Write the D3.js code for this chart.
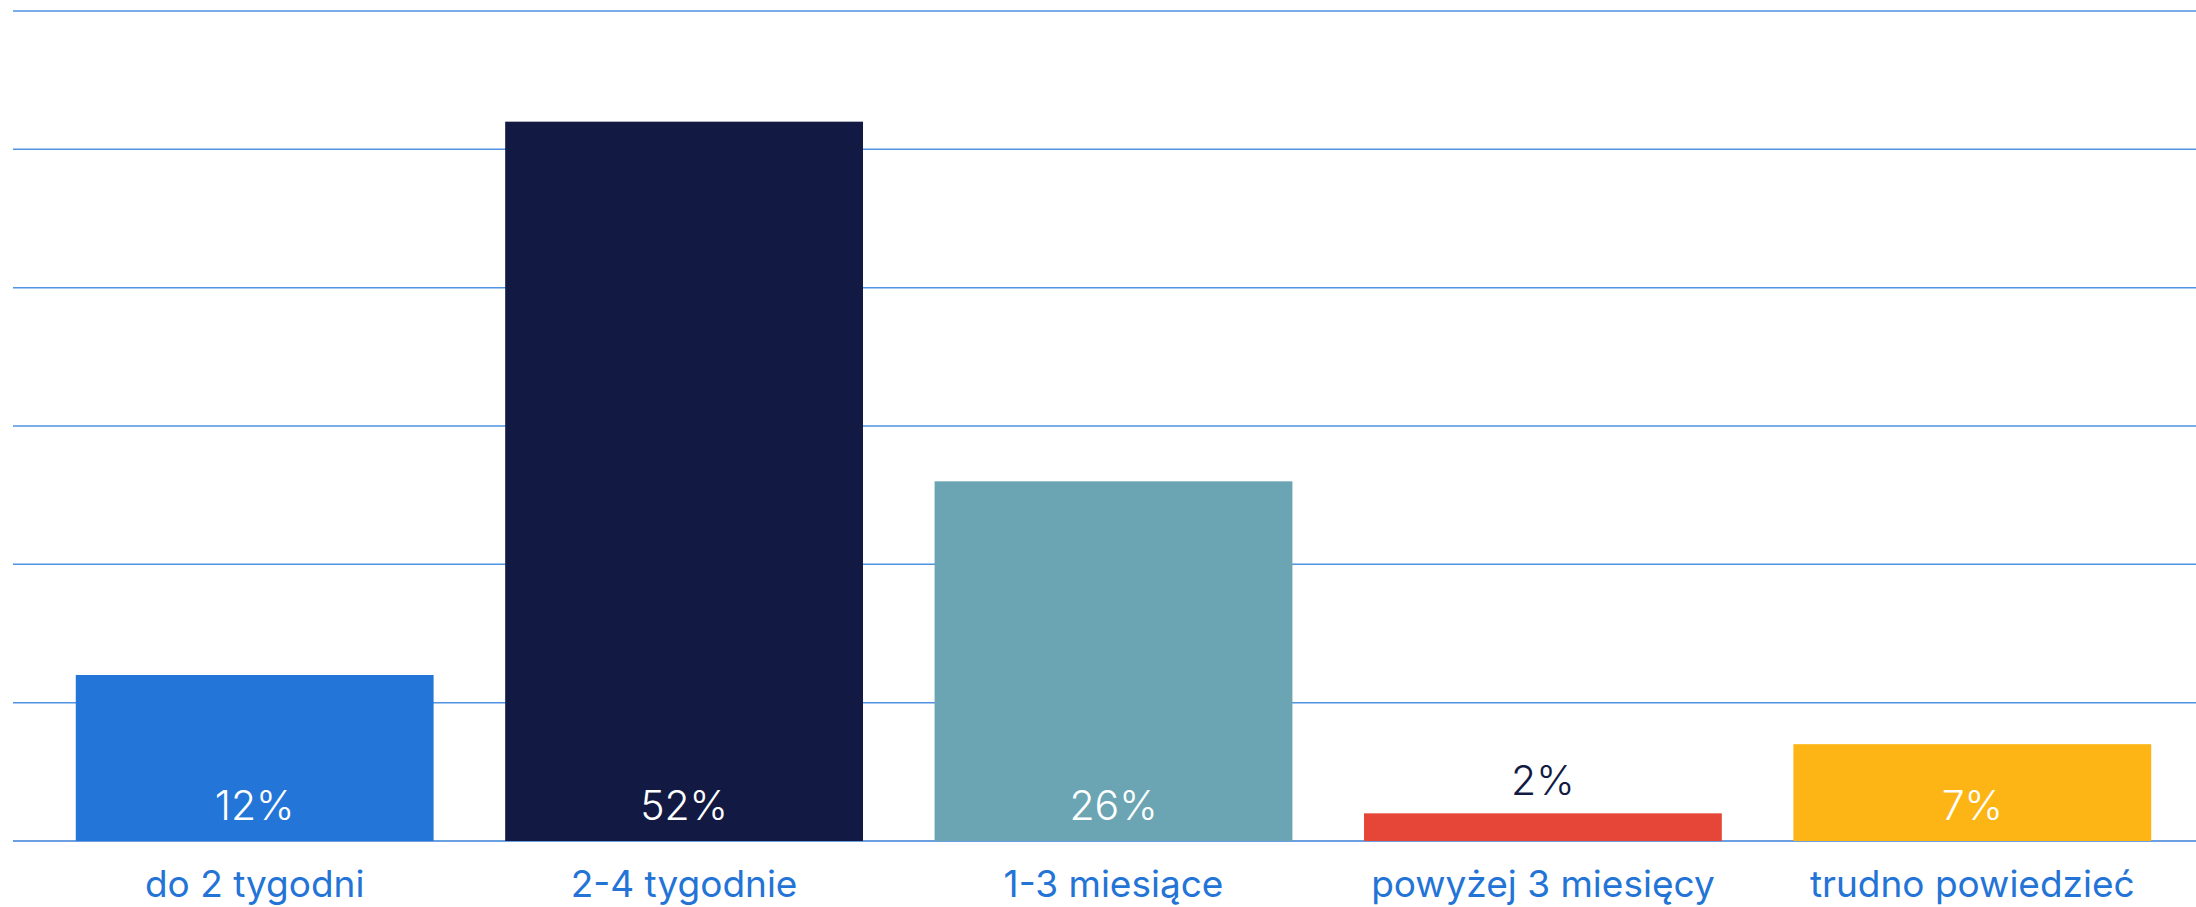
<!DOCTYPE html>
<html>
<head>
<meta charset="utf-8">
<script src="https://cdn.jsdelivr.net/npm/d3@7"></script>
<style>
  html, body { margin: 0; padding: 0; background: #ffffff; }
  svg { display: block; font-family: Inter, "Noto Sans", sans-serif; }
</style>
</head>
<body>
<svg id="chart" width="2196" height="907"></svg>
<script>
// Survey answers: expected duration
const categories = ["do 2 tygodni", "2-4 tygodnie", "1-3 miesiące", "powyżej 3 miesięcy", "trudno powiedzieć"];
const values = [12, 52, 26, 2, 7];
const barColors = ["#2376d8", "#121a44", "#6ba5b3", "#e64637", "#fdb515"];
const yTicks = [0, 10, 20, 30, 40, 50, 60];

const svg = d3.select("#chart");
const W = 2196;
const gridLeft = 13;
const yTop = 11, yBottom = 841;

const x = d3.scaleBand()
  .domain(categories)
  .range([40, 2187])
  .paddingInner(0.1667)
  .paddingOuter(0.0833);

const y = d3.scaleLinear()
  .domain([0, 60])
  .range([yBottom, yTop]);

// horizontal gridlines
svg.append("g")
  .selectAll("line")
  .data(yTicks)
  .join("line")
  .attr("x1", gridLeft)
  .attr("x2", W)
  .attr("y1", d => y(d))
  .attr("y2", d => y(d))
  .attr("stroke", d => d === 0 ? "#3a7fd5" : "#4f93e2")
  .attr("stroke-width", 1.5);

// bars
svg.append("g")
  .selectAll("rect")
  .data(values)
  .join("rect")
  .attr("x", (d, i) => x(categories[i]))
  .attr("width", x.bandwidth())
  .attr("y", d => y(d))
  .attr("height", d => y(0) - y(d))
  .attr("fill", (d, i) => barColors[i]);

// value labels: inside the bar near its base, or above a bar too short to hold it
svg.append("g")
  .selectAll("text")
  .data(values)
  .join("text")
  .attr("x", (d, i) => x(categories[i]) + x.bandwidth() / 2)
  .attr("y", d => (y(0) - y(d)) > 60 ? y(0) - 21 : y(d) - 18)
  .attr("text-anchor", "middle")
  .attr("font-size", 41)
  .attr("font-weight", 300)
  .attr("fill", d => (y(0) - y(d)) > 60 ? "#ffffff" : "#121a44")
  .text(d => d + "%");

// category labels
svg.append("g")
  .selectAll("text")
  .data(categories)
  .join("text")
  .attr("x", d => x(d) + x.bandwidth() / 2)
  .attr("y", 897)
  .attr("text-anchor", "middle")
  .attr("font-size", 37)
  .attr("font-weight", 400)
  .attr("fill", "#2374d6")
  .text(d => d);
</script>
</body>
</html>
